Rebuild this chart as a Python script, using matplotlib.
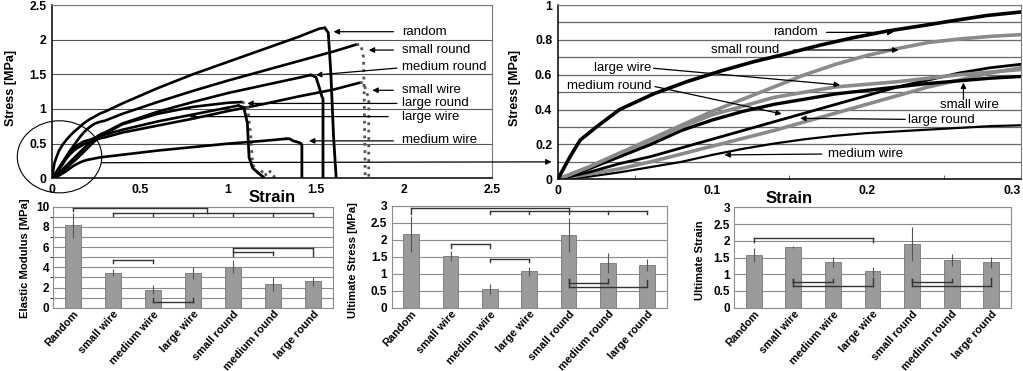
import matplotlib
matplotlib.use('Agg')
import matplotlib.pyplot as plt
import numpy as np
from matplotlib import font_manager
from matplotlib.patches import Ellipse

plt.rcParams['font.family'] = ['Liberation Sans', 'DejaVu Sans']

# narrow bold face for the bar chart labels, if it is installed
names = {f.name for f in font_manager.fontManager.ttflist}
if 'Liberation Sans Narrow' in names:
    cond_family = ['Liberation Sans Narrow', 'Liberation Sans']
    cond_size = 9.6
else:
    cond_family = ['Liberation Sans']
    cond_size = 7.9

# ---- stress-strain curves (strain, stress [MPa]) ----
random_x = [0, 0.008, 0.0145, 0.025, 0.04, 0.062, 0.0835, 0.105, 0.127, 0.148, 0.17, 0.19, 0.213,
            0.235, 0.256, 0.278, 0.3, 0.4, 0.6, 0.8, 1.0, 1.2, 1.4, 1.52, 1.55, 1.57, 1.585, 1.6, 1.615]
random_y = [0, 0.13, 0.225, 0.30, 0.40, 0.49, 0.56, 0.62, 0.675, 0.72, 0.77, 0.81, 0.85,
            0.88, 0.91, 0.94, 0.96, 1.08, 1.3, 1.5, 1.68, 1.86, 2.04, 2.16, 2.17, 2.1, 1.5, 0.6, 0]

small_round_x = [0, 0.02, 0.04, 0.06, 0.08, 0.1, 0.12, 0.14, 0.16, 0.18, 0.2, 0.22, 0.24, 0.26, 0.28, 0.3,
                 0.4, 0.6, 0.8, 1.0, 1.2, 1.4, 1.6, 1.73, 1.755, 1.77, 1.775, 1.78]
small_round_y = [0, 0.07, 0.15, 0.23, 0.31, 0.39, 0.46, 0.53, 0.6, 0.66, 0.71, 0.75, 0.785, 0.805, 0.82, 0.83,
                 0.93, 1.1, 1.26, 1.41, 1.55, 1.69, 1.83, 1.93, 1.93, 1.75, 1.0, 0]

medium_round_x = [0, 0.02, 0.04, 0.06, 0.08, 0.1, 0.12, 0.14, 0.16, 0.18, 0.2, 0.22, 0.24, 0.26, 0.28, 0.3,
                  0.4, 0.6, 0.8, 1.0, 1.2, 1.4, 1.47, 1.5, 1.52, 1.535, 1.54, 1.54]
medium_round_y = [0, 0.04, 0.09, 0.13, 0.18, 0.23, 0.28, 0.33, 0.38, 0.43, 0.48, 0.53, 0.57, 0.61, 0.64, 0.66,
                  0.79, 0.96, 1.1, 1.23, 1.34, 1.45, 1.49, 1.46, 1.3, 1.17, 1.15, 0]

small_wire_x = [0, 0.02, 0.04, 0.06, 0.08, 0.1, 0.12, 0.14, 0.16, 0.18, 0.2, 0.22, 0.24, 0.26, 0.28, 0.3,
                0.4, 0.6, 0.8, 1.0, 1.2, 1.4, 1.6, 1.75, 1.77, 1.79, 1.8, 1.8]
small_wire_y = [0, 0.06, 0.13, 0.2, 0.28, 0.34, 0.39, 0.43, 0.46, 0.49, 0.51, 0.53, 0.55, 0.565, 0.58, 0.59,
                0.66, 0.76, 0.86, 0.97, 1.07, 1.18, 1.28, 1.38, 1.38, 1.22, 1.17, 0]

large_round_x = [0, 0.02, 0.04, 0.06, 0.08, 0.1, 0.12, 0.14, 0.16, 0.18, 0.2, 0.22, 0.24, 0.26, 0.28, 0.3,
                 0.4, 0.6, 0.8, 1.0, 1.08, 1.11, 1.13, 1.14, 1.16, 1.18, 1.2, 1.22, 1.24, 1.26, 1.28]
large_round_y = [0, 0.03, 0.06, 0.1, 0.145, 0.19, 0.235, 0.28, 0.33, 0.38, 0.43, 0.48, 0.53, 0.57, 0.61, 0.64,
                 0.78, 0.93, 1.03, 1.09, 1.1, 1.06, 0.6, 0.2, 0.12, 0.05, 0.12, 0.03, 0.1, 0.02, 0.06]

large_wire_x = [0, 0.02, 0.04, 0.06, 0.08, 0.1, 0.12, 0.14, 0.16, 0.18, 0.2, 0.22, 0.24, 0.26, 0.28, 0.3,
                0.4, 0.6, 0.8, 1.0, 1.06, 1.09, 1.11, 1.12, 1.14, 1.17, 1.2]
large_wire_y = [0, 0.07, 0.15, 0.22, 0.3, 0.37, 0.42, 0.47, 0.5, 0.53, 0.545, 0.56, 0.58, 0.6, 0.615, 0.63,
                0.7, 0.82, 0.92, 1.02, 1.05, 1.02, 0.8, 0.3, 0.15, 0.08, 0.02]

medium_wire_x = [0, 0.02, 0.04, 0.06, 0.08, 0.1, 0.12, 0.14, 0.16, 0.18, 0.2, 0.22, 0.24, 0.26, 0.28, 0.3,
                 0.4, 0.6, 0.8, 1.0, 1.2, 1.33, 1.35, 1.37, 1.4, 1.415, 1.42, 1.42]
medium_wire_y = [0, 0.015, 0.04, 0.07, 0.1, 0.14, 0.175, 0.205, 0.23, 0.25, 0.265, 0.275, 0.285, 0.295, 0.305, 0.31,
                 0.34, 0.4, 0.45, 0.5, 0.54, 0.57, 0.57, 0.54, 0.52, 0.5, 0.48, 0]

# ---- bar data ----
groups = ['Random', 'small wire', 'medium wire', 'large wire', 'small round', 'medium round', 'large round']
modulus = [8.15, 3.45, 1.8, 3.4, 4.05, 2.35, 2.6]
modulus_err = [1.25, 0.35, 0.4, 0.6, 0.65, 0.65, 0.45]
ult_stress = [2.17, 1.52, 0.55, 1.07, 2.14, 1.31, 1.25]
ult_stress_err = [0.52, 0.16, 0.14, 0.14, 0.5, 0.3, 0.17]
ult_strain = [1.57, 1.81, 1.38, 1.09, 1.9, 1.43, 1.36]
ult_strain_err = [0.21, 0.04, 0.15, 0.13, 0.5, 0.17, 0.16]

# significance brackets: (bar positions, line height, tick end for each position)
modulus_brackets = [([0, 3.35], 9.9, [9.55, 9.35]),
                    ([1, 2, 3, 4, 5, 6], 9.35, [9.05] * 6),
                    ([1, 2], 4.72, [4.4, 4.4]),
                    ([2, 3], 0.53, [0.93, 0.93]),
                    ([4, 6], 5.88, [5.15, 5.15]),
                    ([4, 5], 5.54, [5.54, 5.2])]
stress_brackets = [([0, 4], 2.94, [2.75, 2.85]),
                   ([2, 3, 4, 5, 6], 2.85, [2.76] * 5),
                   ([1, 2], 1.87, [1.75, 1.75]),
                   ([2, 3], 1.44, [1.33, 1.33]),
                   ([4, 5], 0.72, [0.83, 0.83]),
                   ([4, 6], 0.61, [0.83, 0.81])]
strain_brackets = [([0, 3], 2.09, [1.97, 1.97]),
                   ([1, 2], 0.76, [0.86, 0.86]),
                   ([1, 3], 0.66, [0.86, 0.88]),
                   ([4, 5], 0.76, [0.86, 0.86]),
                   ([4, 6], 0.66, [0.86, 0.88])]

W, H = 1023, 371
fig = plt.figure(figsize=(W / 100, H / 100), dpi=100)

tick_font = dict(fontsize=8.5, fontweight='bold')
arrow = dict(arrowstyle='-|>', color='black', lw=0.9, mutation_scale=8, shrinkA=0, shrinkB=0)


def ylabel_px(text, x, y, **kw):
    # vertical axis title placed by its centre, in pixels from the top-left corner
    fig.text(x / W, 1 - y / H, text, rotation=90, ha='center', va='center', fontweight='bold', **kw)


def style_curve_axes(ax):
    ax.tick_params(length=0, pad=4)
    for lab in ax.get_xticklabels() + ax.get_yticklabels():
        lab.set_fontweight('bold')
        lab.set_fontsize(8.8)
    for s in ['top', 'right']:
        ax.spines[s].set_color('#777777')
        ax.spines[s].set_linewidth(0.8)
    for s in ['left', 'bottom']:
        ax.spines[s].set_color('black')
        ax.spines[s].set_linewidth(1.1)


# ---- top left: full curves ----
ax1 = fig.add_axes([0.0508, 0.5194, 0.4301, 0.4671])
ax1.set_xlim(0, 2.5)
ax1.set_ylim(0, 2.5)
ax1.set_xticks([0, 0.5, 1, 1.5, 2, 2.5])
ax1.set_xticklabels(['0', '0.5', '1', '1.5', '2', '2.5'])
ax1.set_yticks([0, 0.5, 1, 1.5, 2, 2.5])
ax1.set_yticklabels(['0', '0.5', '1', '1.5', '2', '2.5'])
ax1.yaxis.grid(True, color='#555555', lw=0.8)
ax1.set_axisbelow(True)
style_curve_axes(ax1)

curves = [(random_x, random_y, '-'), (small_round_x, small_round_y, ':'),
          (medium_round_x, medium_round_y, '-'), (small_wire_x, small_wire_y, ':'),
          (large_round_x, large_round_y, ':'), (large_wire_x, large_wire_y, '-'),
          (medium_wire_x, medium_wire_y, '-')]
for cx, cy, drop_ls in curves:
    pk = int(np.argmax(cy))
    ax1.plot(cx[:pk + 1], cy[:pk + 1], color='black', lw=1.9, solid_capstyle='round')
    dcol = '#555555' if drop_ls == ':' else 'black'
    ax1.plot(cx[pk:], cy[pk:], color=dcol, lw=2.0, ls=drop_ls)

ax1.set_xlabel('Strain', fontsize=12, fontweight='bold', labelpad=-4)
ylabel_px('Stress [MPa]', 11, 88, fontsize=9)

left_labels = [('random', 2.115, 1.94, 1.60, 2.115, 2.115),
               ('small round', 1.85, 1.94, 1.80, 1.85, 1.85),
               ('medium round', 1.61, 1.96, 1.50, 1.59, 1.49),
               ('small wire', 1.27, 1.94, 1.82, 1.27, 1.27),
               ('large round', 1.08, 1.96, 1.11, 1.08, 1.08),
               ('large wire', 0.89, 1.91, 0.78, 0.89, 0.89),
               ('medium wire', 0.55, 1.94, 1.46, 0.54, 0.54)]
for txt, ty, x0, x1, y0, y1 in left_labels:
    ax1.text(1.99, ty, txt, fontsize=9.5, va='center', ha='left')
    ax1.annotate('', xy=(x1, y1), xytext=(x0, y0), arrowprops=arrow)

ax1.add_patch(Ellipse((0.043, 0.31), 0.48, 1.04, fill=False, lw=0.8, color='black', clip_on=False))

# ---- top right: zoomed curves ----
ax2 = fig.add_axes([0.5452, 0.5167, 0.4529, 0.4698])
ax2.set_xlim(0, 0.3)
ax2.set_ylim(0, 1)
ax2.set_xticks([0, 0.1, 0.2, 0.3])
ax2.set_xticklabels(['0', '0.1', '0.2', '0.3'])
ax2.set_yticks([0, 0.2, 0.4, 0.6, 0.8, 1])
ax2.set_yticklabels(['0', '0.2', '0.4', '0.6', '0.8', '1'])
ax2.set_yticks(np.arange(0.1, 1.0, 0.2), minor=True)
ax2.set_xticks([0.05, 0.15, 0.25], minor=True)
ax2.yaxis.grid(True, which='both', color='#666666', lw=0.9)
ax2.set_axisbelow(True)
style_curve_axes(ax2)
ax2.get_xticklabels()[-1].set_horizontalalignment('right')
ax2.tick_params(axis='x', which='minor', direction='in', length=3, color='#555555')
ax2.tick_params(axis='y', which='minor', length=0)

zoom_curves = [(medium_wire_x, medium_wire_y, 'black', 1.6),
               (large_round_x, large_round_y, '#8a8a8a', 2.6),
               (medium_round_x, medium_round_y, 'black', 2.0),
               (small_wire_x, small_wire_y, 'black', 2.4),
               (large_wire_x, large_wire_y, '#8a8a8a', 2.6),
               (small_round_x, small_round_y, '#8a8a8a', 2.6),
               (random_x, random_y, 'black', 2.6)]
for cx, cy, col, lw in zoom_curves:
    ax2.plot(cx, cy, color=col, lw=lw)

ax2.set_xlabel('Strain', fontsize=12, fontweight='bold', labelpad=-4)
ylabel_px('Stress [MPa]', 515, 88, fontsize=9)

right_labels = [('random', 0.1397, 0.843, 'left', 0.174, 0.843, 0.2174, 0.843),
                ('small round', 0.0993, 0.742, 'left', 0.1526, 0.742, 0.2206, 0.742),
                ('large wire', 0.0235, 0.64, 'left', 0.062, 0.637, 0.1828, 0.541),
                ('medium round', 0.0058, 0.535, 'left', 0.063, 0.532, 0.145, 0.375),
                ('small wire', 0.2665, 0.426, 'center', 0.2627, 0.459, 0.2627, 0.555),
                ('large round', 0.227, 0.34, 'left', 0.225, 0.344, 0.157, 0.35),
                ('medium wire', 0.175, 0.145, 'left', 0.171, 0.145, 0.108, 0.14)]
for txt, tx, ty, ha, x0, y0, x1, y1 in right_labels:
    ax2.text(tx, ty, txt, fontsize=9.5, va='center', ha=ha)
    ax2.annotate('', xy=(x1, y1), xytext=(x0, y0), arrowprops=arrow)

# arrow from the circled region to the zoomed plot
ax1.annotate('', xy=(-0.004, 0.1), xycoords=ax2.transData, xytext=(0.28, 0.225),
             textcoords='data', arrowprops=arrow)


# ---- bottom bar charts ----
def bar_panel(rect, vals, errs, ymax, major, minor, ylabel, brackets, label_px):
    ax = fig.add_axes(rect)
    x = np.arange(len(vals))
    ax.bar(x, vals, width=0.4, color='#9a9a9a', edgecolor='#777777', lw=0.6, zorder=2)
    ax.errorbar(x, vals, yerr=errs, fmt='none', ecolor='#555555', elinewidth=0.8, capsize=0, zorder=3)
    ax.set_xlim(-0.5, len(vals) - 0.5)
    ax.set_ylim(0, ymax)
    yt = np.arange(0, ymax + 1e-9, major)
    ax.set_yticks(yt)
    ax.set_yticklabels([('%g' % v) for v in yt], **tick_font)
    ax.set_yticks(np.arange(0, ymax + 1e-9, minor), minor=True)
    ax.yaxis.grid(True, which='both', color='#8c8c8c', lw=0.8)
    ax.set_axisbelow(True)
    ax.set_xticks(x)
    ax.set_xticklabels(groups, rotation=48, ha='right', rotation_mode='anchor',
                       family=cond_family, fontsize=cond_size, fontweight='bold')
    ax.tick_params(length=0, pad=3)
    ax.tick_params(axis='x', pad=1)
    for s in ax.spines.values():
        s.set_color('#8c8c8c')
        s.set_linewidth(0.8)
    ylabel_px(ylabel, label_px[0], label_px[1], family=cond_family, fontsize=cond_size + 0.2)
    for xs, y, tips in brackets:
        ax.plot([min(xs), max(xs)], [y, y], color='#333333', lw=1.0, zorder=4)
        for xx, tp in zip(xs, tips):
            ax.plot([xx, xx], [y, tp], color='#333333', lw=1.0, zorder=4)
    return ax


bar_panel([0.0521, 0.1706, 0.2734, 0.2722], modulus, modulus_err, 10, 2, 1,
          'Elastic Modulus [MPa]', modulus_brackets, (25, 258))
bar_panel([0.3827, 0.1706, 0.2693, 0.2749], ult_stress, ult_stress_err, 3, 0.5, 0.5,
          'Ultimate Stress [MPa]', stress_brackets, (353, 260))
bar_panel([0.7175, 0.1706, 0.2708, 0.2706], ult_strain, ult_strain_err, 3, 0.5, 0.5,
          'Ultimate Strain', strain_brackets, (700, 260))

fig.savefig('out.png', dpi=100)
